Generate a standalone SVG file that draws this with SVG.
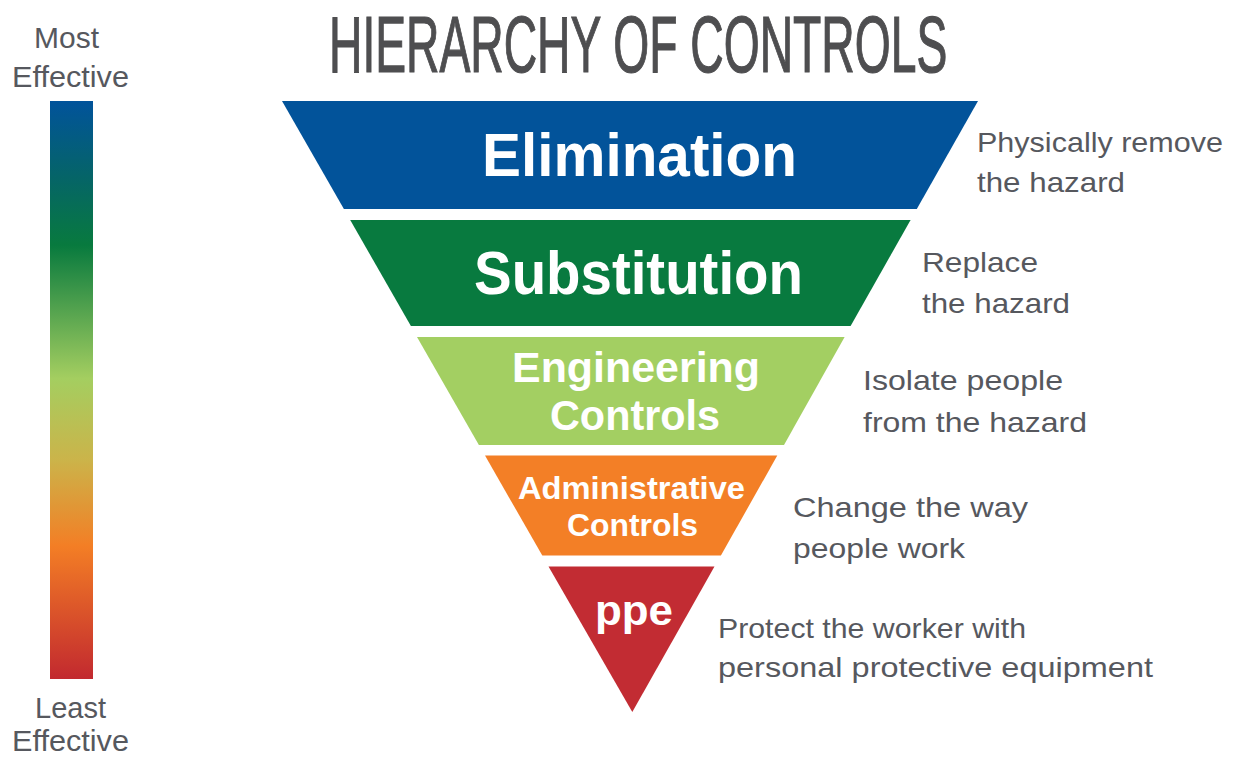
<svg xmlns="http://www.w3.org/2000/svg" width="1240" height="758" viewBox="0 0 1240 758">
  <defs>
    <linearGradient id="effGrad" x1="0" y1="0" x2="0" y2="1">
      <stop offset="0" stop-color="#01539B"/>
      <stop offset="0.13" stop-color="#056468"/>
      <stop offset="0.25" stop-color="#087A3E"/>
      <stop offset="0.48" stop-color="#A4CE60"/>
      <stop offset="0.62" stop-color="#CBB44A"/>
      <stop offset="0.77" stop-color="#F37E25"/>
      <stop offset="1" stop-color="#C2292F"/>
    </linearGradient>
    <style>
      .title { font-family: "Liberation Sans", Arial, sans-serif; font-weight: normal; font-size: 80px; fill: #4E4E50; stroke: #4E4E50; stroke-width: 1.2px; }
      .band { font-family: "Liberation Sans", Arial, sans-serif; font-weight: bold; fill: #FFFFFF; }
      .desc { font-family: "Liberation Sans", Arial, sans-serif; font-size: 28px; fill: #56585E; }
      .side { font-family: "Liberation Sans", Arial, sans-serif; font-size: 29px; fill: #56585E; }
    </style>
  </defs>
  <rect width="1240" height="758" fill="#FFFFFF"/>

  <g id="title">
    <text class="title" transform="translate(329,72) scale(0.578,1)" x="0" y="0">HIERARCHY OF CONTROLS</text>
  </g>

  <g id="effectiveness-scale">
    <text class="side" x="34" y="48" textLength="65" lengthAdjust="spacingAndGlyphs">Most</text>
    <text class="side" x="12" y="87" textLength="117" lengthAdjust="spacingAndGlyphs">Effective</text>
    <rect x="50" y="101" width="43" height="578" fill="url(#effGrad)"/>
    <text class="side" x="35" y="718" textLength="71" lengthAdjust="spacingAndGlyphs">Least</text>
    <text class="side" x="12" y="751" textLength="117" lengthAdjust="spacingAndGlyphs">Effective</text>
  </g>

  <g id="elimination">
    <polygon points="282,101 978,101 916.8,209 343.9,209" fill="#02539A"/>
    <text class="band" x="482" y="176" font-size="61" textLength="315" lengthAdjust="spacingAndGlyphs">Elimination</text>
    <text class="desc" x="977" y="152" textLength="246" lengthAdjust="spacingAndGlyphs">Physically remove</text>
    <text class="desc" x="977" y="192" textLength="148" lengthAdjust="spacingAndGlyphs">the hazard</text>
  </g>

  <g id="substitution">
    <polygon points="350.2,220 910.6,220 850.6,326 410.9,326" fill="#087A3F"/>
    <text class="band" x="474" y="294" font-size="62" textLength="329" lengthAdjust="spacingAndGlyphs">Substitution</text>
    <text class="desc" x="922" y="272" textLength="116" lengthAdjust="spacingAndGlyphs">Replace</text>
    <text class="desc" x="922" y="313" textLength="148" lengthAdjust="spacingAndGlyphs">the hazard</text>
  </g>

  <g id="engineering-controls">
    <polygon points="417,337 844.6,337 784,445 478.9,445" fill="#A3CF62"/>
    <text class="band" x="512" y="382" font-size="42" textLength="248" lengthAdjust="spacingAndGlyphs">Engineering</text>
    <text class="band" x="550" y="430" font-size="42" textLength="170" lengthAdjust="spacingAndGlyphs">Controls</text>
    <text class="desc" x="863" y="390" textLength="200" lengthAdjust="spacingAndGlyphs">Isolate people</text>
    <text class="desc" x="863" y="432" textLength="224" lengthAdjust="spacingAndGlyphs">from the hazard</text>
  </g>

  <g id="administrative-controls">
    <polygon points="485,455.5 777.3,455.5 720.9,555.5 542.3,555.5" fill="#F37F26"/>
    <text class="band" x="518" y="499" font-size="31.5" textLength="227" lengthAdjust="spacingAndGlyphs">Administrative</text>
    <text class="band" x="567" y="536" font-size="31.5" textLength="131" lengthAdjust="spacingAndGlyphs">Controls</text>
    <text class="desc" x="793" y="517" textLength="235" lengthAdjust="spacingAndGlyphs">Change the way</text>
    <text class="desc" x="793" y="558" textLength="172" lengthAdjust="spacingAndGlyphs">people work</text>
  </g>

  <g id="ppe">
    <polygon points="548.5,566.5 714.5,566.5 632.3,712" fill="#C22C33"/>
    <text class="band" x="595" y="625" font-size="42" textLength="78" lengthAdjust="spacingAndGlyphs">ppe</text>
    <text class="desc" x="718" y="638" textLength="308" lengthAdjust="spacingAndGlyphs">Protect the worker with</text>
    <text class="desc" x="718" y="677" textLength="435" lengthAdjust="spacingAndGlyphs">personal protective equipment</text>
  </g>
</svg>
